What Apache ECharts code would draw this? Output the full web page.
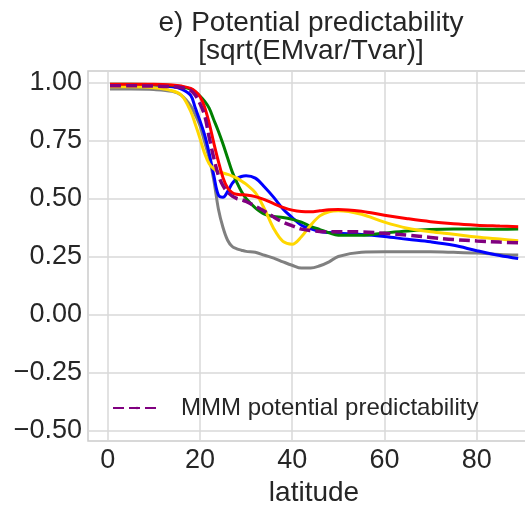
<!DOCTYPE html>
<html>
<head>
<meta charset="utf-8">
<script src="https://cdn.jsdelivr.net/npm/echarts@6/dist/echarts.min.js"></script>
<style>html,body{margin:0;padding:0;background:#fff;}#c{width:525px;height:505px;}</style>
</head>
<body>
<div id="c"></div>
<script>
// latitude samples
const latitude = [0.5, 5, 10, 14, 16, 18, 19, 20, 21, 22, 23, 24, 25, 26, 27, 28, 29, 30, 32, 34, 36, 38, 40, 42, 44, 46, 48, 50, 55, 60, 65, 70, 75, 80, 85, 89];
const grayVals   = [0.972,0.972,0.970,0.962,0.945,0.900,0.860,0.815,0.745,0.675,0.580,0.455,0.375,0.320,0.293,0.283,0.277,0.272,0.268,0.255,0.243,0.227,0.212,0.200,0.200,0.210,0.227,0.250,0.268,0.270,0.270,0.270,0.268,0.265,0.259,0.256];
const blueVals   = [0.988,0.988,0.986,0.982,0.972,0.945,0.890,0.835,0.775,0.695,0.600,0.515,0.505,0.530,0.565,0.585,0.595,0.598,0.588,0.550,0.505,0.455,0.418,0.385,0.370,0.358,0.353,0.350,0.345,0.336,0.324,0.313,0.298,0.275,0.254,0.241];
const greenVals  = [0.993,0.993,0.992,0.988,0.982,0.972,0.960,0.942,0.920,0.890,0.840,0.790,0.735,0.675,0.615,0.570,0.530,0.500,0.460,0.432,0.422,0.418,0.410,0.398,0.380,0.366,0.352,0.342,0.341,0.351,0.360,0.366,0.368,0.368,0.367,0.368];
const goldVals   = [0.982,0.982,0.978,0.965,0.945,0.876,0.820,0.760,0.695,0.650,0.628,0.616,0.610,0.604,0.597,0.588,0.575,0.562,0.525,0.455,0.370,0.315,0.303,0.335,0.385,0.425,0.443,0.447,0.432,0.398,0.372,0.357,0.346,0.334,0.325,0.318];
const redVals    = [0.993,0.993,0.993,0.990,0.985,0.975,0.962,0.940,0.895,0.825,0.740,0.660,0.590,0.545,0.525,0.518,0.516,0.515,0.508,0.495,0.478,0.462,0.450,0.444,0.443,0.447,0.451,0.453,0.445,0.428,0.413,0.400,0.391,0.385,0.381,0.378];
const mmmVals    = [0.986,0.986,0.985,0.982,0.978,0.966,0.945,0.910,0.860,0.765,0.675,0.600,0.555,0.528,0.510,0.500,0.495,0.487,0.467,0.445,0.420,0.398,0.382,0.368,0.362,0.358,0.357,0.357,0.356,0.350,0.342,0.332,0.323,0.317,0.312,0.309];
const xTicks = [0, 20, 40, 60, 80];
const yTicks = [-0.5, -0.25, 0, 0.25, 0.5, 0.75, 1.0];
const titleText = 'e) Potential predictability\n[sqrt(EMvar/Tvar)]';
const mmmName = 'MMM potential predictability';

function pairs(vals){ return latitude.map((x,i)=>[x, vals[i]]); }
function lineSeries(name, vals, color, extra){
  return Object.assign({
    name: name, type: 'line', data: pairs(vals), showSymbol: false, symbol: 'none',
    smooth: 0.35, lineStyle: {color: color, width: 3}, itemStyle: {color: color},
    emphasis: {disabled: true}, silent: true, z: 2
  }, extra || {});
}
const txt = '#262626';
const chart = echarts.init(document.getElementById('c'), null, {renderer: 'canvas'});
chart.setOption({
  animation: false,
  backgroundColor: '#ffffff',
  title: {
    text: titleText, left: 311, top: 9, textAlign: 'center', padding: 0,
    textStyle: {fontFamily: 'Liberation Sans', fontSize: 28, fontWeight: 'normal', color: txt, lineHeight: 28}
  },
  legend: {
    data: [mmmName],
    left: 112, top: 396, itemWidth: 48, itemHeight: 3, padding: 0,
    textStyle: {fontFamily: 'Liberation Sans', fontSize: 24, color: txt, padding: [0,0,0,15]}
  },
  grid: {left: 88, right: -15, top: 71, bottom: 64, show: true, borderColor: '#cccccc', borderWidth: 1.5,
    containLabel: false, outerBoundsMode: 'none'},
  xAxis: {
    type: 'value', min: -4.27, max: 93.73,
    name: 'latitude', nameLocation: 'middle', nameGap: 38,
    nameTextStyle: {fontFamily: 'Liberation Sans', fontSize: 28, color: txt},
    axisLine: {show: false}, axisTick: {show: false, customValues: xTicks},
    axisLabel: {customValues: xTicks, fontFamily: 'Liberation Sans', fontSize: 27, color: txt, margin: 6, formatter: v => String(v)},
    splitLine: {show: true, lineStyle: {color: '#d9d9d9', width: 1.5}}
  },
  yAxis: {
    type: 'value', min: -0.546, max: 1.05,
    axisLine: {show: false}, axisTick: {show: false, customValues: yTicks},
    axisLabel: {customValues: yTicks, fontFamily: 'Liberation Sans', fontSize: 27, color: txt, margin: 6,
      formatter: v => v.toFixed(2).replace('-', '\u2212')},
    splitLine: {show: true, lineStyle: {color: '#d9d9d9', width: 1.5}}
  },
  series: [
    lineSeries('gray', grayVals, '#808080'),
    lineSeries('blue', blueVals, '#0000ff'),
    lineSeries('green', greenVals, '#008000'),
    lineSeries('gold', goldVals, '#ffd700'),
    lineSeries('red', redVals, '#ff0000'),
    lineSeries(mmmName, mmmVals, '#800080', {lineStyle: {color: '#800080', width: 3.5, type: [11, 5]}, z: 3})
  ]
});
</script>
</body>
</html>
